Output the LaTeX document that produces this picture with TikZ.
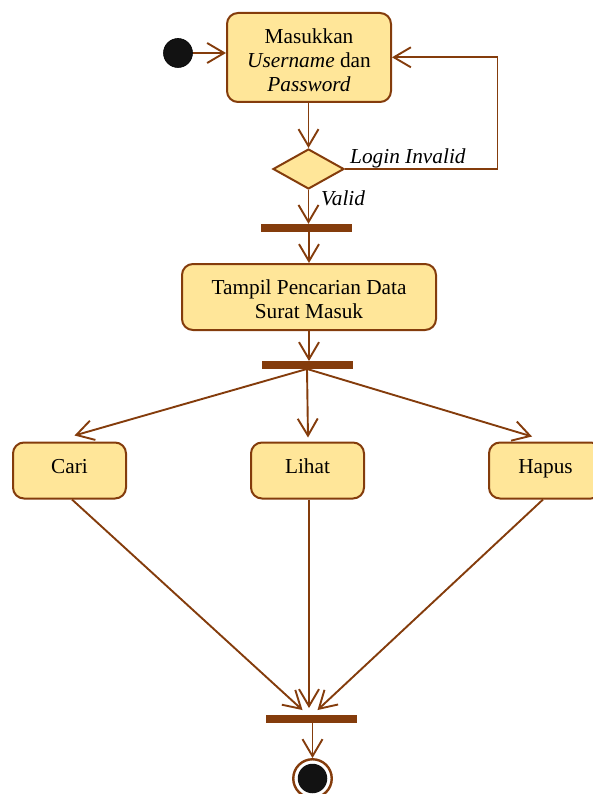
\documentclass[tikz,border=0pt]{standalone}
\usepackage{fontspec}
\setmainfont{Liberation Serif}
\usetikzlibrary{arrows.meta,shapes.geometric,calc}
\definecolor{brn}{HTML}{843C0C}
\definecolor{actfill}{HTML}{FFE699}
\begin{document}
\begin{tikzpicture}[x=1pt,y=1pt,
  every node/.style={font=\fontsize{21.3}{24}\selectfont},
  act/.style={draw=brn,line width=2pt,fill=actfill,rounded corners=11pt,align=center,inner sep=0pt},
  single/.style={text height=14pt,text depth=8pt},
  bar/.style={fill=brn,inner sep=0pt,minimum width=91pt,minimum height=7.5pt},
  flow/.style={draw=brn,line width=1.9pt,-{Straight Barb[length=17pt,width=20pt,line width=1.9pt]}},
  plain/.style={draw=brn,line width=1.9pt},
  lbl/.style={font=\fontsize{21.3}{24}\selectfont\itshape,inner sep=0pt}]
\useasboundingbox (0,0) rectangle (592,-794);
\node[circle,fill=black!93,draw=black,line width=0.6pt,minimum size=29pt,inner sep=0pt] (start) at (178,-53) {};
\node[act,minimum width=164pt,minimum height=89pt] (act1) at (309,-57.5) {\rule{0pt}{21pt}Masukkan\\\textit{Username} dan\\\textit{Password}};
\node[diamond,draw=brn,line width=2pt,fill=actfill,minimum width=71pt,minimum height=40pt,inner sep=0pt] (dec) at (308.5,-169) {};
\node[bar] (bar1) at (306.5,-227.8) {};
\node[act,minimum width=254pt,minimum height=66pt] (act2) at (309,-297) {\rule{0pt}{19pt}Tampil Pencarian Data\\Surat Masuk};
\node[bar] (bar2) at (307,-365) {};
\node[act,single,minimum width=113pt,minimum height=56pt] (cari) at (69.5,-470.5) {Cari};
\node[act,single,minimum width=113pt,minimum height=56pt] (lihat) at (307.5,-470.5) {Lihat};
\node[act,single,minimum width=113pt,minimum height=56pt] (hapus) at (545.5,-470.5) {Hapus};
\node[bar] (bar3) at (311.5,-719) {};
\node[circle,draw=brn,line width=2.4pt,fill=white,minimum size=38.5pt,inner sep=0pt] (end) at (312.5,-778.5) {};
\node[circle,fill=black!93,minimum size=29.5pt,inner sep=0pt] (endin) at (end.center) {};
\coordinate (loopR) at (497.5,-169);
\coordinate (loopT) at (497.5,-57.3);
% connectors
\draw[flow] (start.east) -- (start -| act1.west);
\draw[flow] (act1.south -| dec.north) -- (dec.north);
\draw[plain] (dec.east) -- (loopR) -- (loopT);
\draw[flow] (loopT) -- (act1.east |- loopT);
\draw[flow] (dec.south) -- (dec.south |- bar1.north);
\draw[flow] (bar1.south -| act2.north) -- (act2.north);
\draw[flow] (act2.south) -- (act2.south |- bar2.north);
\draw[flow] (bar2.south) -- ($(cari.north)+(5,6)$);
\draw[flow] (bar2.south) -- ($(lihat.north)+(0.5,4)$);
\draw[flow] (bar2.south) -- ($(hapus.north)+(-13.5,5)$);
\draw[flow] ($(cari.south)+(2.5,0)$) -- ($(bar3.north)+(-9,5)$);
\draw[flow] ($(lihat.south)+(1.5,0)$) -- ($(bar3.north)+(-2.5,7)$);
\draw[flow] ($(hapus.south)+(-2.5,0)$) -- ($(bar3.north)+(6,5)$);
\draw[flow] (bar3.south -| end.north) -- (end.north);
% labels
\node[lbl,anchor=base west] (linv) at (350,-164) {Login Invalid};
\node[lbl,anchor=base west] (lval) at (321,-206) {Valid};
\end{tikzpicture}
\end{document}
